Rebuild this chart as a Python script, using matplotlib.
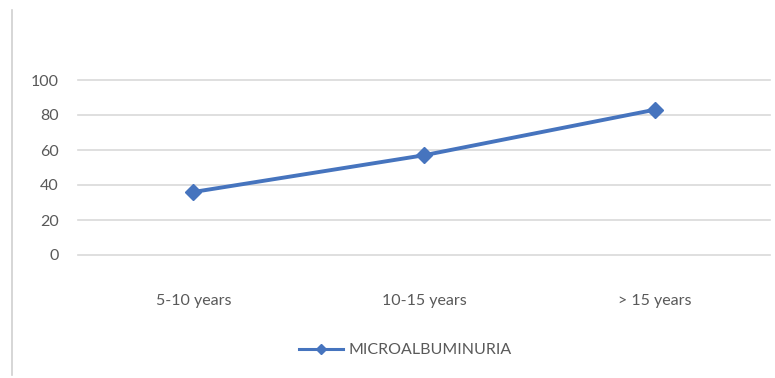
import matplotlib.pyplot as plt
from matplotlib.lines import Line2D

categories = ["5-10 years", "10-15 years", "> 15 years"]
microalbuminuria = [36, 57, 83]
y_ticks = [0, 20, 40, 60, 80, 100]

plt.rcParams['font.family'] = ['Lato', 'DejaVu Sans']

fig = plt.figure(figsize=(7.75, 3.78), dpi=100)
ax = fig.add_axes([78 / 775, 1 - 255 / 378, 692 / 775, 175 / 378])

line_color = "#4674BE"
ax.plot(range(len(categories)), microalbuminuria, color=line_color, lw=2.8,
        marker="D", markersize=8.5, label="MICROALBUMINURIA", zorder=3)

ax.set_xlim(-0.5, len(categories) - 0.5)
ax.set_ylim(0, 100)
ax.set_yticks(y_ticks)
ax.set_xticks(range(len(categories)))
ax.set_xticklabels(categories)
ax.grid(axis="y", color="#d9d9d9", lw=1.2)
for gl in ax.get_ygridlines():
    gl.set_clip_on(False)
ax.set_axisbelow(True)
for s in ax.spines.values():
    s.set_visible(False)
ax.tick_params(length=0, colors="#595959", labelsize=11.5)
ax.tick_params(axis="x", pad=28)
ax.tick_params(axis="y", pad=14)

fig.legend(handles=[Line2D([], [], color=line_color, lw=2.2, marker="D", markersize=5.5)],
           labels=["MICROALBUMINURIA"], loc="center", bbox_to_anchor=(405 / 775, 1 - 350 / 378),
           frameon=False, fontsize=11.5, labelcolor="#595959", handlelength=2.8,
           handletextpad=0.3)

# thin border on the left of the chart area
fig.add_artist(Line2D([12 / 775, 12 / 775], [1 - 375 / 378, 1 - 10 / 378],
                      color="#d0d0d0", lw=1.2, transform=fig.transFigure))

fig.savefig("out.png", dpi=100, facecolor="white")
